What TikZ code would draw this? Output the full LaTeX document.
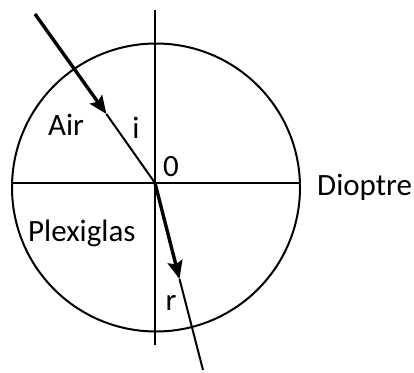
\documentclass[tikz,border=0pt]{standalone}
\usepackage{fontspec}
\setmainfont{Carlito}
\usetikzlibrary{arrows.meta}
\begin{document}
\begin{tikzpicture}[x=1pt,y=-1pt,
  thinline/.style={line width=2pt},
  thickray/.style={line width=3.4pt,-{Stealth[length=18pt,width=15pt,inset=3pt]}},
  lbl/.style={inner sep=0pt,font=\fontsize{31}{37}\selectfont}]
\useasboundingbox (0,0) rectangle (414,372);
% geometry
\coordinate (C) at (156,187.5);
\coordinate (O) at (155,183);
\coordinate (L) at (12,183);
\coordinate (R) at (300,183);
\coordinate (Top) at (155,10);
\coordinate (Bot) at (155,345);
\coordinate (S) at (35,14);
\coordinate (T) at (106.4,114);
\coordinate (U) at (179.5,279);
\coordinate (E) at (203,370);
% circle and axes
\draw[thinline] (C) circle[radius=144];
\draw[thinline] (L) -- (R);
\draw[thinline] (Top) -- (Bot);
% rays
\draw[thickray] (S) -- (T);
\draw[thinline] (T) -- (O);
\draw[thickray] (O) -- (U);
\draw[thinline] (U) -- (E);
% labels
\node[lbl,anchor=base west] (air) at (48,135) {Air};
\node[lbl,anchor=base] (i) at (136,138) {i};
\node[lbl,anchor=base west] (zero) at (163,176) {0};
\node[lbl,anchor=base west] (dioptre) at (317,195) {Dioptre};
\node[lbl,anchor=base west] (plexi) at (28,241) {Plexiglas};
\node[lbl,anchor=base] (r) at (171,310) {r};
\end{tikzpicture}
\end{document}
